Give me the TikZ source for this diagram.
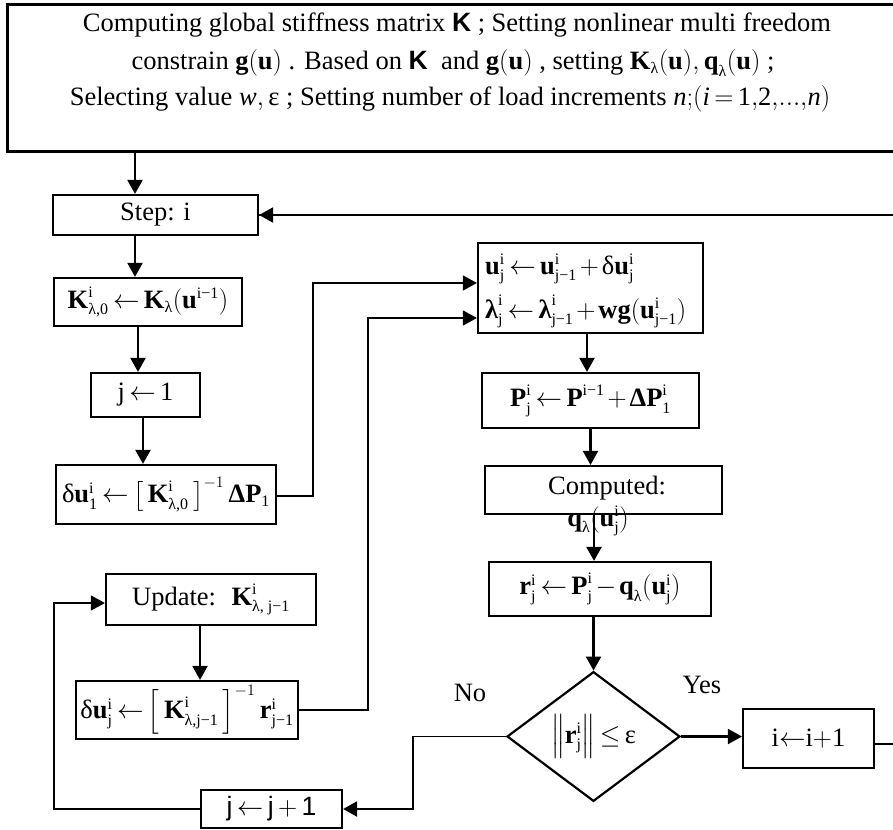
\RequirePackage{fix-cm}
\documentclass[tikz,border=0pt]{standalone}
\usepackage{amsmath}
\usepackage{fontspec}
\setmainfont{Liberation Serif}
\newfontfamily\sansf{Liberation Sans}
\usetikzlibrary{arrows.meta,shapes.geometric,calc}
\DeclareMathSizes{26.5}{26.5}{16}{12}
\newcommand\fs{\fontsize{26.5}{31}\selectfont\thickmuskip=3mu plus 2mu\medmuskip=2mu plus 1mu}
\newcommand\fst{\fontsize{26.5}{31}\selectfont\thickmuskip=3mu plus 2mu\medmuskip=2mu plus 1mu}
\newcommand\B[1]{\text{\bfseries\upshape #1}}
\newcommand\R[1]{\text{\mdseries\upshape #1}}
\newcommand\I[1]{\text{\mdseries\itshape #1}}
\newcommand\SK{{\sansf\bfseries K}}
\begin{document}
\begin{tikzpicture}[x=1pt,y=-1pt,
  box/.style={draw,line width=2.2pt,inner sep=0pt,font=\fs},
  arr/.style={line width=2.2pt,-{Triangle[length=14pt,width=15pt]}},
  tarr/.style={line width=1.3pt,-{Triangle[length=14pt,width=15pt]}},
  tline/.style={line width=1.3pt},
  lbl/.style={inner sep=0pt,font=\fs},
  toptxt/.style={inner sep=0pt,font=\fst,anchor=base}]
\useasboundingbox (0,0) rectangle (893,829);
\clip (0,0) rectangle (893,829);
\fill[white] (0,0) rectangle (893,829);

% top box
\node[draw,line width=3pt,inner sep=0pt,minimum width=898pt,minimum height=147pt] (top) at (456,78.5) {};
\node[toptxt] (t1) at (457,32) {Computing global stiffness matrix \SK{} ; Setting nonlinear multi freedom};
\node[toptxt] (t2) at (453,70) {constrain $\B{g}(\B{u})$ . Based on \SK{} ~and $\B{g}(\B{u})$ , setting $\B{K}_{\R{λ}}(\B{u}), \B{q}_{\R{λ}}(\B{u})$ ;};
\node[toptxt] (t3) at (450,106) {Selecting value $\I{w}, \R{ε}$ ; Setting number of load increments $\I{n};\!(\I{i}=\R{1},\!\R{2},\!...,\!\I{n})$};

% left column
\node[box,minimum width=205pt,minimum height=40pt] (step) at (155.5,215) {Step: i};
\node[box,minimum width=188pt,minimum height=48pt] (k0) at (148,302) {$\B{K}^{\R{i}}_{\R{λ,0}} \leftarrow \B{K}_{\R{λ}}(\B{u}^{\R{i−1}})$};
\node[box,minimum width=109pt,minimum height=44pt] (j1) at (145.5,395) {$\R{j}\,\mathord{\leftarrow}\,\R{1}$};
\node[box,minimum width=220pt,minimum height=59pt] (du1) at (166,494.5) {$\R{δ}\B{u}^{\R{i}}_{\R{1}} \leftarrow \left[\,\B{K}^{\R{i}}_{\R{λ,0}}\,\right]^{-1} \B{ΔP}_{\R{1}}$};
\node[box,minimum width=210pt,minimum height=51pt] (upd) at (211,599.5) {Update:~ $\B{K}^{\R{i}}_{\R{λ, j−1}}$};
\node[box,minimum width=222pt,minimum height=58pt] (duj) at (187,710) {$\R{δ}\B{u}^{\R{i}}_{\R{j}} \leftarrow \left[\,\B{K}^{\R{i}}_{\R{λ,j−1}}\,\right]^{-1} \B{r}^{\R{i}}_{\R{j−1}}$};
\node[box,minimum width=141pt,minimum height=38pt] (jj) at (271.5,809) {{\sansf j}$\,\leftarrow\,${\sansf j}$\,+\,${\sansf 1}};

% middle column
\node[box,minimum width=225pt,minimum height=90pt] (ub) at (590.5,288) {};
\node[lbl,anchor=base west] (ul1) at (485,274) {$\B{u}^{\R{i}}_{\R{j}} \leftarrow \B{u}^{\R{i}}_{\R{j−1}} + \R{δ}\B{u}^{\R{i}}_{\R{j}}$};
\node[lbl,anchor=base west] (ul2) at (485,318) {$\B{λ}^{\R{i}}_{\R{j}} \leftarrow \B{λ}^{\R{i}}_{\R{j−1}} + \B{wg}(\B{u}^{\R{i}}_{\R{j−1}})$};
\node[box,minimum width=217pt,minimum height=55pt] (pb) at (590.5,400.5) {$\B{P}^{\R{i}}_{\R{j}} \leftarrow \B{P}^{\R{i−1}} + \B{ΔP}^{\R{i}}_{\R{1}}$};
\node[box,minimum width=237pt,minimum height=48pt] (cb) at (603.5,490) {};
\node[lbl,anchor=base] (ct) at (607,494) {Computed:};
\node[lbl,anchor=base] (cq) at (598,526) {$\B{q}_{\R{λ}}(\B{u}^{\R{i}}_{\R{j}})$};
\node[box,minimum width=222pt,minimum height=54pt] (rb) at (600,589) {$\B{r}^{\R{i}}_{\R{j}} \leftarrow \B{P}^{\R{i}}_{\R{j}} - \B{q}_{\R{λ}}(\B{u}^{\R{i}}_{\R{j}})$};
\node[draw,diamond,line width=2.2pt,inner sep=0pt,minimum width=173pt,minimum height=127pt,font=\fs] (dia) at (593.5,736.5) {$\left\|\B{r}^{\R{i}}_{\R{j}}\right\| \leq \R{ε}$};
\node[box,minimum width=131pt,minimum height=59pt] (ii) at (808.5,738.5) {$\R{i}\mathord{\leftarrow}\R{i}\mathord{+}\R{1}$};
\node[lbl] (no) at (470,693) {No};
\node[lbl] (yes) at (702,685) {Yes};

% elbow coordinates
\coordinate (k1) at (313,0);
\coordinate (k2) at (368,0);
\coordinate (k3) at (905,0);
\coordinate (k4) at (413,0);
\coordinate (k5) at (54,0);

% vertical arrows
\draw[arr] ([xshift=-20.5pt]step.north |- top.south) -- ([xshift=-20.5pt]step.north);
\draw[arr] ([xshift=-20.5pt]step.south) -- ([xshift=-20.5pt]step.south |- k0.north);
\draw[arr] ([xshift=-10pt]k0.south) -- ([xshift=-10pt]k0.south |- j1.north);
\draw[arr] ([xshift=-2.5pt]j1.south) -- ([xshift=-2.5pt]j1.south |- du1.north);
\draw[arr] ([xshift=-3.5pt]ub.south) -- ([xshift=-3.5pt]ub.south |- pb.north);
\draw[arr] (pb.south) -- (pb.south |- cb.north);
\draw[arr] ([xshift=-9.5pt]cb.south) -- ([xshift=-9.5pt]cb.south |- rb.north);
\draw[arr] (dia.north |- rb.south) -- (dia.north);
\draw[arr] ([xshift=-11pt]upd.south) -- ([xshift=-11pt]upd.south |- duj.north);
\draw[arr] (dia.east) -- (dia.east -| ii.west);

% elbow connectors
\draw[tarr] ([yshift=-1.5pt]du1.east) -- ([yshift=-1.5pt]du1.east -| k1) |- ([yshift=5pt]ub.west);
\draw[tarr] (duj.east) -- (duj.east -| k2) |- ([yshift=-30pt]ub.west);
\draw[tline] ([yshift=-5.5pt]ii.east) -- ([yshift=-5.5pt]ii.east -| k3) |- (step.east);
\draw[arr] (step.east -| k3) -- (step.east);
\draw[tline] (dia.west) -- (dia.west -| k4) |- ([xshift=20pt]jj.east);
\draw[arr] ([xshift=20pt]jj.east) -- (jj.east);
\draw[tarr] (jj.west) -- (jj.west -| k5) |- ([yshift=-3.5pt]upd.west);
\end{tikzpicture}
\end{document}
